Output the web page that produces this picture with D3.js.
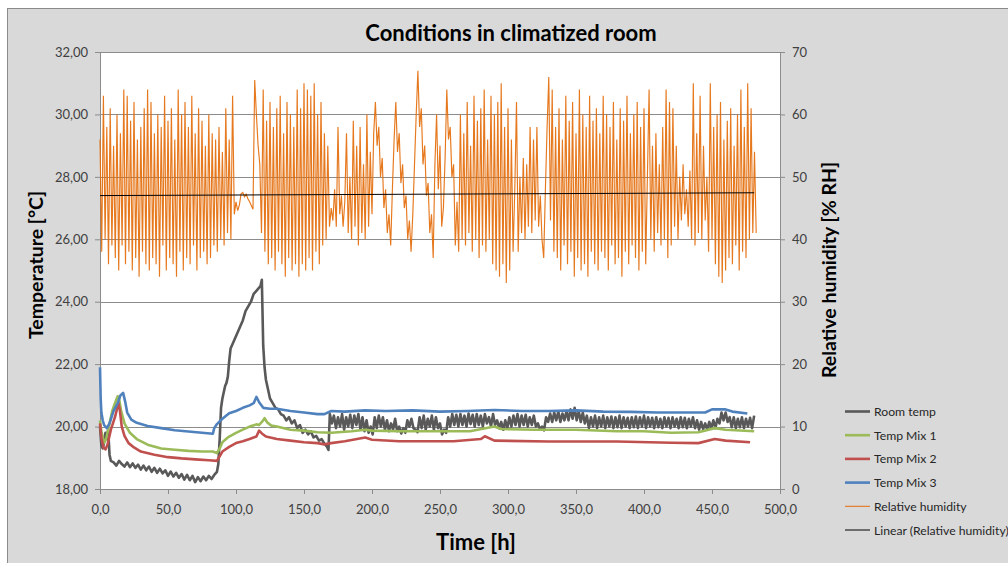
<!DOCTYPE html>
<html><head><meta charset="utf-8">
<script src="https://cdn.jsdelivr.net/npm/d3@7"></script>
<style>
body{margin:0;background:#fff;}
text{font-family: Lato, "Liberation Sans", sans-serif;}
</style>
</head><body>
<svg id="c" width="1008" height="563"></svg>
<script>
// ---------- DATA ----------
const chartTitle = "Conditions in climatized room";
const xTitle = "Time [h]";
const yLeftTitle = "Temperature [°C]";
const yRightTitle = "Relative humidity [% RH]";
const timeTicks = [0,50,100,150,200,250,300,350,400,450,500];
const tempTicks = [18,20,22,24,26,28,30,32];
const rhTicks = [0,10,20,30,40,50,60,70];
const seriesNames = ["Room temp","Temp Mix 1","Temp Mix 2","Temp Mix 3","Relative humidity","Linear (Relative humidity)"];

// [time h, temperature °C]
const roomTemp = [[0,20.0],[1,19.4],[2,19.3],[3,19.5],[4,19.8],[5,19.6],[6,19.9],[7,19.1],[8,18.9],
[10,18.85],[12,18.75],[14,18.9],[16,18.8],[18,18.72],[20,18.85],[22,18.7],[24,18.82],[26,18.68],[28,18.78],[30,18.62],[32,18.75],[34,18.6],[36,18.72],[38,18.55],[40,18.68],[42,18.52],[44,18.65],[46,18.5],[48,18.6],[50,18.42],[52,18.56],[54,18.4],[56,18.52],[58,18.36],[60,18.48],[62,18.3],[64,18.45],[66,18.28],[68,18.42],[70,18.22],[72,18.38],[74,18.25],[76,18.4],[78,18.28],[80,18.42],[82,18.32],[84,18.45],[86,18.55],[87,18.8],[88,19.6],[89,20.6],[90,20.9],[91,21.1],[92,21.3],[93,21.4],[94,21.6],[95,22.1],[96,22.5],[97,22.6],[99,22.8],[101,23.0],[103,23.2],[105,23.4],[107,23.7],[109,23.85],[111,24.0],[113,24.25],[114,24.3],[115,24.35],[117,24.45],[118,24.5],[119,24.7],[120,22.6],[121,21.9],[122,21.5],[123,21.3],[125,20.9],[127,20.75],[129,20.6],[131,20.55],[133,20.4],[135,20.35],[137,20.2],[139,20.3],[141,20.1],[143,20.2],[145,19.95],[147,20.05],[149,19.8],[151,19.9],[153,19.75],[155,19.85],[157,19.65],[159,19.7],[161,19.55],[163,19.6],[165,19.45],[167,19.35],[168,19.25],
[169,20.4],[170.5,20.1],[172,20.35],[173.5,19.95],[175,20.3],[176.5,20.0],[178,20.4],[179.5,19.9],[181,20.3],[182.5,20.0],[184,20.38],[185.5,19.95],[187,20.35],[188.5,20.05],[190,20.4],[191.5,19.9],[193,20.3],[194.5,19.85],[196,20.2],[197.5,19.8],[199,20.0],[200.5,19.75],[202,20.3],[203.5,19.95],[205,20.35],[206.5,20.0],[208,20.3],[209.5,19.9],[211,20.2],[212.5,19.85],[214,20.1],[215.5,19.9],[217,20.25],[218.5,19.85],[220,20.0],[221.5,19.78],[223,19.95],[224.5,19.8],[226,20.2],[227.5,20.0],[229,20.25],[230.5,19.95],[232,19.9],[233.5,19.82],[235,20.3],[236.5,19.95],[238,20.35],[239.5,19.9],[241,20.25],[242.5,20.0],[244,20.35],[245.5,19.9],[247,20.3],[248.5,19.95],[250,20.1],[251.5,19.75],[253,19.9],[254.5,19.8],[256,20.3],[257.5,20.0],[259,20.4],[260.5,20.05],[262,20.38],[263.5,20.0],[265,20.4],[266.5,20.05],[268,20.35],[269.5,20.0],[271,20.42],[272.5,20.08],[274,20.38],[275.5,20.0],[277,20.4],[278.5,20.05],[280,20.35],[281.5,20.0],[283,20.4],[284.5,20.1],[286,20.3],[287.5,20.0],[289,20.4],[290.5,20.05],[292,20.2],[293.5,19.95],[295,20.15],[296.5,19.9],[298,20.2],[299.5,19.95],[301,20.3],[302.5,20.0],[304,20.35],[305.5,20.05],[307,20.4],[308.5,20.0],[310,20.35],[311.5,20.05],[313,20.38],[314.5,20.0],[316,20.3],[317.5,20.05],[319,20.35],[320.5,20.0],[322,20.1],[323.5,19.9],[325,20.0],[326.5,19.88],[328,20.3],[329.5,20.15],[331,20.42],[332.5,20.15],[334,20.45],[335.5,20.2],[337,20.48],[338.5,20.15],[340,20.42],[341.5,20.2],[343,20.5],[344.5,20.2],[346,20.55],[347.5,20.25],[349,20.6],[350.5,20.2],[352,20.5],[353.5,20.15],[355,20.45],[356.5,20.1],[358,20.35],[359.5,19.95],[361,20.3],[362.5,20.0],[364,20.35],[365.5,19.95],[367,20.3],[368.5,20.0],[370,20.35],[371.5,19.95],[373,20.3],[374.5,20.0],[376,20.32],[377.5,19.95],[379,20.3],[380.5,19.98],[382,20.35],[383.5,19.95],[385,20.3],[386.5,20.0],[388,20.28],[389.5,19.95],[391,20.3],[392.5,19.98],[394,20.32],[395.5,19.95],[397,20.3],[398.5,20.0],[400,20.35],[401.5,19.95],[403,20.3],[404.5,20.0],[406,20.28],[407.5,19.95],[409,20.3],[410.5,19.98],[412,20.25],[413.5,19.95],[415,20.3],[416.5,20.0],[418,20.28],[419.5,19.95],[421,20.3],[422.5,20.0],[424,20.25],[425.5,19.95],[427,20.3],[428.5,19.98],[430,20.28],[431.5,19.95],[433,20.25],[434.5,20.0],[436,20.3],[437.5,19.95],[439,20.2],[440.5,19.9],[442,20.15],[443.5,19.92],[445,20.1],[446.5,19.9],[448,20.15],[449.5,19.95],[451,20.2],[452.5,19.95],[454,20.25],[455.5,20.1],[457,20.45],[458.5,20.2],[460,20.45],[461.5,20.15],[463,20.3],[464.5,19.98],[466,20.3],[467.5,19.95],[469,20.25],[470.5,19.98],[472,20.3],[473.5,19.95],[475,20.25],[476.5,20.0],[478,20.28],[479.5,19.95],[481,20.35]];

const tempMix1 = [[0,20.2],[1,19.85],[3,19.48],[4.5,19.6],[7,20.1],[9,20.5],[11,20.75],[13,20.97],[14,20.9],[15.5,20.5],[18,20.1],[22,19.8],[27,19.6],[35,19.42],[45,19.3],[55,19.26],[65,19.22],[75,19.2],[83,19.2],[86,19.15],[88,19.3],[90,19.5],[94,19.65],[100,19.8],[105,19.9],[110,20.0],[115,20.07],[117,20.05],[120,20.2],[121,20.27],[123,20.13],[126,20.03],[130,20.0],[140,19.9],[150,19.87],[160,19.82],[170,19.8],[185,19.85],[195,19.9],[200,19.87],[220,19.85],[250,19.85],[272,19.85],[290,20.0],[295,19.92],[320,19.9],[350,19.9],[380,19.85],[400,19.85],[420,19.8],[440,19.82],[452,19.95],[460,19.9],[481,19.85]];

const tempMix2 = [[0,20.1],[1,19.65],[2.5,19.33],[4,19.27],[5.5,19.42],[8,19.9],[11,20.3],[13,20.65],[13.5,20.77],[14.5,20.55],[16,20.0],[18,19.7],[21,19.47],[25,19.33],[30,19.2],[40,19.1],[50,19.02],[60,18.98],[70,18.95],[80,18.92],[86,18.9],[88,19.05],[90,19.2],[95,19.35],[100,19.47],[105,19.53],[110,19.6],[115,19.68],[117,19.87],[119,19.78],[122,19.68],[130,19.6],[140,19.55],[150,19.5],[160,19.47],[165,19.43],[170,19.47],[180,19.53],[195,19.65],[200,19.58],[220,19.53],[260,19.53],[280,19.6],[283,19.69],[290,19.55],[330,19.52],[380,19.52],[420,19.48],[440,19.47],[452,19.6],[460,19.55],[478,19.5]];

const tempMix3 = [[0,21.9],[0.5,20.9],[1,20.45],[2,20.2],[3,20.05],[5,19.95],[7,20.1],[10,20.5],[13,20.75],[15,21.0],[17,21.08],[18.5,20.8],[20,20.45],[23,20.22],[27,20.12],[35,20.02],[45,19.95],[55,19.88],[65,19.84],[75,19.8],[83,19.77],[84,19.95],[86,20.08],[90,20.25],[95,20.43],[100,20.5],[105,20.6],[110,20.68],[113,20.75],[115,20.95],[117,20.78],[120,20.6],[125,20.57],[130,20.57],[140,20.5],[150,20.45],[160,20.4],[165,20.4],[170,20.5],[180,20.48],[195,20.52],[210,20.5],[230,20.52],[250,20.48],[270,20.5],[290,20.53],[310,20.5],[330,20.5],[350,20.52],[370,20.48],[390,20.47],[410,20.45],[430,20.45],[445,20.45],[450,20.55],[460,20.55],[465,20.48],[476,20.42]];

// relative humidity, one reading every rhStep hours from t = 0
const rhStep = 1.25;
const rhValues = [
56,38,63,40,58,36,61,39,55,37,60,35,57,39,64,36,63,38,59,35,62,37,56,34,58,38,61,36,64,35,62,37,57,36,60,34,58,39,63,35,59,37,61,36,56,34,64,38,60,35,62,37,58,36,63,39,57,35,61,37,59,38,55,36,60,37,57,39,56,38,58,40,54,39,61,41,56,40,63,44,
46,44.6,45.5,47.3,47.5,46.8,47.2,46.5,46,45.4,44.8,65.5,60,55,52,
41,64,38,59,36,62,37,58,35,61,38,63,36,57,34,62,37,60,35,58,36,64,34,61,36,65,35,64,37,63,35,65,38,60,36,62,39,57,40,55,42,
45,43,48,42,58,44,47,42,46,
57,41,50,40,59,42,55,39,58,41,52,40,60,42,54,44,57,
62,55,58,50,53,45,48,41,44,39,48,56,62,54,57,49,52,45,47,40,43,38,44,52,60,67,58,61,52,55,47,49,41,44,37,52,60,48,55,42,45,53,64,56,58,50,52,39,46,38,
60,40,57,39,62,41,55,38,63,40,59,37,61,39,64,38,56,40,63,36,60,35,62,34,65,36,58,33,61,35,56,38,
48,62,38,50,41,53,40,52,42,58,41,56,43,58,42,47,40,37,
48,58,66,43,64,38,
58,37,61,35,56,39,63,36,59,38,62,34,57,37,64,35,60,36,58,34,63,38,59,36,61,35,57,38,63,37,60,35,58,39,62,36,56,37,61,34,59,38,63,36,57,39,60,37,62,35,58,38,61,36,
50,64,40,55,38,57,41,52,39,58,40,64,37,62,39,61,42,55,40,50,43,52,44,48,42,51,40,65,39,57,41,63,40,55,43,50,38,65,40,58,36,60,34,62,33,56,35,59,37,61,36,55,39,60,35,64,38,58,37,65,40,61,41,54,41];

// linear trend of relative humidity [time h, %RH]
const rhTrend = [[0,47.0],[481,47.45]];

// ---------- CHART ----------
const colors = {room:"#595959", mix1:"#9bbb59", mix2:"#c0504d", mix3:"#4f81bd", rh:"#e46c0a", trend:"#000000"};
const FONT = "Lato, 'Liberation Sans', sans-serif";
const svg = d3.select("#c");
svg.append("rect").attr("x",7.5).attr("y",8.5).attr("width",1010).attr("height",560)
  .attr("fill","#d9d9d9").attr("stroke","#8a8a8a").attr("stroke-width",1);

const x = d3.scaleLinear().domain([0,500]).range([100,780]);
const yT = d3.scaleLinear().domain([18,32]).range([489,52]);
const yH = d3.scaleLinear().domain([0,70]).range([489,52]);

svg.append("rect").attr("x",100).attr("y",52).attr("width",680).attr("height",437).attr("fill","#fff");

// gridlines
svg.append("g").selectAll("line").data(tempTicks).join("line")
  .attr("x1",100).attr("x2",780).attr("y1",d=>Math.round(yT(d))+0.5).attr("y2",d=>Math.round(yT(d))+0.5)
  .attr("stroke","#8c8c8c").attr("stroke-width",1);

function styleAxis(g){
  g.select(".domain").attr("stroke","#8c8c8c");
  g.selectAll(".tick line").attr("stroke","#8c8c8c");
  g.selectAll(".tick text").attr("fill","#404040").attr("font-size","13px").style("font-family",FONT);
}
svg.append("g").attr("transform","translate(100,0)")
  .call(d3.axisLeft(yT).tickValues(tempTicks).tickSize(5).tickSizeOuter(0).tickPadding(7).tickFormat(d=>d.toFixed(2).replace(".",",")))
  .call(styleAxis);
svg.append("g").attr("transform","translate(780,0)")
  .call(d3.axisRight(yH).tickValues(rhTicks).tickSize(5).tickSizeOuter(0).tickPadding(7).tickFormat(d=>d))
  .call(styleAxis);
svg.append("g").attr("transform","translate(0,489)")
  .call(d3.axisBottom(x).tickValues(timeTicks).tickSize(5).tickSizeOuter(0).tickPadding(11).tickFormat(d=>d.toFixed(1).replace(".",",")))
  .call(styleAxis);

// series
const lineT = d3.line().x(d=>x(d[0])).y(d=>yT(d[1]));
const lineH = d3.line().x(d=>x(d[0])).y(d=>yH(d[1]));
const tempSeries = [[roomTemp,colors.room],[tempMix1,colors.mix1],[tempMix2,colors.mix2],[tempMix3,colors.mix3]];
tempSeries.forEach(([data,c])=>{
  svg.append("path").datum(data).attr("d",lineT).attr("fill","none").attr("stroke",c)
    .attr("stroke-width",2.6).attr("stroke-linejoin","round");
});
const rhPts = rhValues.map((v,i)=>[i*rhStep, v]);
svg.append("path").datum(rhPts).attr("d",lineH).attr("fill","none").attr("stroke",colors.rh)
  .attr("stroke-width",1.15).attr("stroke-opacity",0.92);
svg.append("path").datum(rhTrend).attr("d",lineH).attr("fill","none").attr("stroke",colors.trend)
  .attr("stroke-width",1);

// titles
svg.append("text").attr("x",511).attr("y",41).attr("text-anchor","middle")
  .attr("font-size","22px").attr("font-weight","bold").attr("fill","#000").text(chartTitle);
svg.append("text").attr("x",476).attr("y",550).attr("text-anchor","middle")
  .attr("font-size","22px").attr("font-weight","bold").attr("fill","#000").text(xTitle);
svg.append("text").attr("transform","translate(43,265) rotate(-90)").attr("text-anchor","middle")
  .attr("font-size","19.5px").attr("font-weight","bold").attr("fill","#000").text(yLeftTitle);
svg.append("text").attr("transform","translate(836,270) rotate(-90)").attr("text-anchor","middle")
  .attr("font-size","19.5px").attr("font-weight","bold").attr("fill","#000").text(yRightTitle);

// legend
const legColors = [colors.room,colors.mix1,colors.mix2,colors.mix3,colors.rh,colors.trend];
const legWidths = [2.6,2.6,2.6,2.6,1,1];
const leg = svg.append("g");
seriesNames.forEach((n,i)=>{
  const yy = 411.5 + i*23.7;
  leg.append("line").attr("x1",845).attr("x2",870).attr("y1",yy).attr("y2",yy)
    .attr("stroke",legColors[i]).attr("stroke-width",legWidths[i]);
  leg.append("text").attr("x",874).attr("y",yy+4.5).attr("font-size","12.2px").attr("fill","#262626").text(n);
});
</script>
</body></html>
